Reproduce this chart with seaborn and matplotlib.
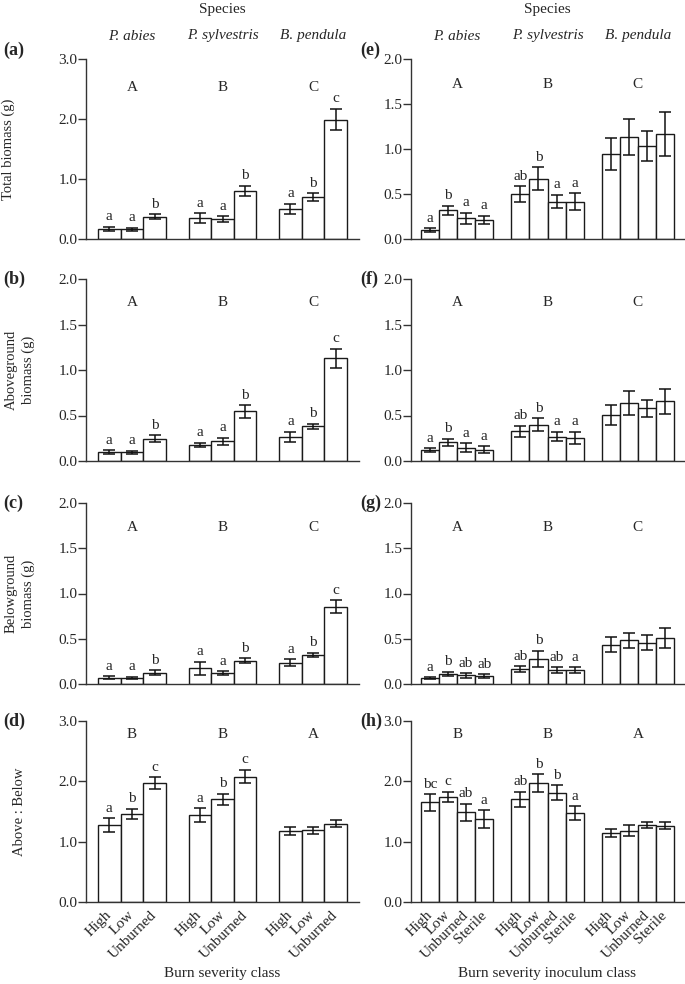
import matplotlib
matplotlib.use("Agg")
import matplotlib.pyplot as plt
import pandas as pd
import seaborn as sns

# Style: white bars, serif text
sns.set_style("ticks")
plt.rcParams['font.family'] = ['Liberation Serif', 'DejaVu Serif']

# Categories
species = ['P. abies', 'P. sylvestris', 'B. pendula']
burn_classes = ['High', 'Low', 'Unburned']
inoc_classes = ['High', 'Low', 'Unburned', 'Sterile']

# (a) total biomass by burn severity class (mean, SE), species in order
total_burn = [0.17, 0.16, 0.37, 0.35, 0.33, 0.80, 0.50, 0.70, 1.99]
total_burn_se = [0.036, 0.025, 0.044, 0.083, 0.05, 0.09, 0.086, 0.06, 0.18]
# (b) aboveground
above_burn = [0.096, 0.096, 0.246, 0.176, 0.217, 0.544, 0.268, 0.382, 1.13]
above_burn_se = [0.022, 0.018, 0.037, 0.026, 0.037, 0.066, 0.055, 0.03, 0.105]
# (c) belowground
below_burn = [0.069, 0.065, 0.127, 0.175, 0.12, 0.258, 0.236, 0.32, 0.855]
below_burn_se = [0.018, 0.015, 0.025, 0.073, 0.022, 0.029, 0.04, 0.024, 0.073]
# (d) above : below ratio
ratio_burn = [1.277, 1.458, 1.965, 1.442, 1.70, 2.08, 1.178, 1.19, 1.30]
ratio_burn_se = [0.11, 0.09, 0.10, 0.11, 0.096, 0.11, 0.06, 0.058, 0.058]

# (e) total biomass by burn severity inoculum class
total_inoc = [0.10, 0.32, 0.23, 0.21, 0.50, 0.67, 0.415, 0.415, 0.944, 1.133, 1.033, 1.167]
total_inoc_se = [0.022, 0.05, 0.063, 0.046, 0.087, 0.126, 0.076, 0.096, 0.178, 0.2, 0.167, 0.245]
# (f) aboveground
above_inoc = [0.118, 0.206, 0.147, 0.125, 0.327, 0.40, 0.268, 0.254, 0.504, 0.64, 0.577, 0.654]
above_inoc_se = [0.02, 0.04, 0.046, 0.035, 0.0625, 0.068, 0.053, 0.07, 0.107, 0.134, 0.097, 0.138]
# (g) belowground
below_inoc = [0.065, 0.113, 0.095, 0.087, 0.167, 0.276, 0.153, 0.156, 0.433, 0.484, 0.458, 0.51]
below_inoc_se = [0.011, 0.022, 0.024, 0.022, 0.029, 0.09, 0.031, 0.031, 0.082, 0.082, 0.078, 0.113]
# (h) above : below ratio
ratio_inoc = [1.65, 1.745, 1.486, 1.376, 1.70, 1.97, 1.81, 1.47, 1.145, 1.183, 1.277, 1.266]
ratio_inoc_se = [0.135, 0.085, 0.143, 0.146, 0.13, 0.146, 0.124, 0.113, 0.063, 0.09, 0.05, 0.06]

# Significance letters
letters_abc = ['a', 'a', 'b', 'a', 'a', 'b', 'a', 'b', 'c']
letters_d = ['a', 'b', 'c', 'a', 'b', 'c', '', '', '']
letters_ef = ['a', 'b', 'a', 'a', 'ab', 'b', 'a', 'a', '', '', '', '']
letters_g = ['a', 'b', 'ab', 'ab', 'ab', 'b', 'ab', 'a', '', '', '', '']
letters_h = ['bc', 'c', 'ab', 'a', 'ab', 'b', 'b', 'a', '', '', '', '']
species_letters = ['A', 'B', 'C']
species_letters_ratio = ['B', 'B', 'A']

panels = [
    # label, classes, means, errors, letters, group letters, ymax, ytick step, group-letter y, column, row, ylabel
    ('(a)', burn_classes, total_burn, total_burn_se, letters_abc, species_letters, 3.0, 1.0, 2.53, 0, 0, 'Total biomass (g)'),
    ('(b)', burn_classes, above_burn, above_burn_se, letters_abc, species_letters, 2.0, 0.5, 1.74, 0, 1, 'Aboveground\nbiomass (g)'),
    ('(c)', burn_classes, below_burn, below_burn_se, letters_abc, species_letters, 2.0, 0.5, 1.73, 0, 2, 'Belowground\nbiomass (g)'),
    ('(d)', burn_classes, ratio_burn, ratio_burn_se, letters_d, species_letters_ratio, 3.0, 1.0, 2.77, 0, 3, 'Above : Below'),
    ('(e)', inoc_classes, total_inoc, total_inoc_se, letters_ef, species_letters, 2.0, 0.5, 1.72, 1, 0, None),
    ('(f)', inoc_classes, above_inoc, above_inoc_se, letters_ef, species_letters, 2.0, 0.5, 1.74, 1, 1, None),
    ('(g)', inoc_classes, below_inoc, below_inoc_se, letters_g, species_letters, 2.0, 0.5, 1.73, 1, 2, None),
    ('(h)', inoc_classes, ratio_inoc, ratio_inoc_se, letters_h, species_letters_ratio, 3.0, 1.0, 2.77, 1, 3, None),
]

W, H = 685, 984
fig = plt.figure(figsize=(W / 100, H / 100), dpi=100)

col_left = [86, 411]
col_width = 273
row_px = [(59, 239), (279, 461), (503, 684), (721, 902)]
ylabel_x = [8, 20, 20, 20]
plabel_dy = [-9, 0, 0, 0]

for (plabel, classes, means, errs, letters, glet, ymax, ystep, gy,
     col, row, ylabel) in panels:
    top, bot = row_px[row]
    ax = fig.add_axes([col_left[col] / W, 1 - bot / H, col_width / W, (bot - top) / H])
    n = len(classes)
    pos = [g * (n + 1) + i for g in range(len(species)) for i in range(n)]
    df = pd.DataFrame({'pos': pos, 'mean': means})
    sns.barplot(data=df, x='pos', y='mean', native_scale=True, width=1.0,
                color='white', saturation=1, edgecolor='#1a1a1a', linewidth=1.0,
                errorbar=None, ax=ax)
    ax.errorbar(pos, means, yerr=errs, fmt='none', ecolor='#111111',
                elinewidth=1.1, capsize=4, capthick=1.1, zorder=3)

    for x, m, e, lt in zip(pos, means, errs, letters):
        if lt:
            ax.annotate(lt, (x, m + e), xytext=(0, 2.5), textcoords='offset points',
                        ha='center', va='bottom', fontsize=11)
    for g, gl in enumerate(glet):
        ax.text(g * (n + 1) + (n - 1) / 2, gy, gl, ha='center', va='center', fontsize=11)

    margin = 0.53 if n == 3 else 0.55
    ax.set_xlim(-0.5 - margin, len(pos) + len(species) - 1.5 + margin)
    ax.set_ylim(0, ymax)
    ticks = [i * ystep for i in range(int(round(ymax / ystep)) + 1)]
    ax.set_yticks(ticks)
    ax.set_yticklabels([f'{t:.1f}' for t in ticks], fontsize=11)
    ax.tick_params(axis='y', length=5.5, width=1.0, pad=0.5, color='#333333')
    ax.set_xlabel('')
    ax.set_ylabel('')
    sns.despine(ax=ax)
    for s in ['left', 'bottom']:
        ax.spines[s].set_linewidth(1.0)
        ax.spines[s].set_color('#333333')

    if row == 3:
        ax.set_xticks(pos)
        ax.set_xticklabels(classes * len(species), rotation=45, ha='right',
                           va='center', rotation_mode='anchor', fontsize=11)
        ax.tick_params(axis='x', length=0, pad=8)
    else:
        ax.set_xticks([])

    # panel letter
    fig.text((3 if col == 0 else 360) / W, 1 - (top + plabel_dy[row]) / H, plabel,
             fontsize=13, fontweight='bold', ha='left', va='center')
    if ylabel:
        fig.text(ylabel_x[row] / W, 1 - (top + bot) / 2 / H, ylabel, rotation=90,
                 ha='center', va='center', fontsize=10.5, linespacing=1.35,
                 multialignment='center')

    if row == 0:
        cx = col_left[col] + col_width / 2
        fig.text(cx / W, 1 - 10 / H, 'Species', ha='center', va='center', fontsize=11)
        xscale = col_width / (ax.get_xlim()[1] - ax.get_xlim()[0])
        for g, sp in enumerate(species):
            gx = col_left[col] + (g * (n + 1) + (n - 1) / 2 - ax.get_xlim()[0]) * xscale
            fig.text(gx / W, 1 - 36 / H, sp, ha='center', va='center', fontsize=11,
                     fontstyle='italic')
    if row == 3:
        cx = col_left[col] + col_width / 2
        xlab = 'Burn severity class' if col == 0 else 'Burn severity inoculum class'
        fig.text(cx / W, 1 - 974 / H, xlab, ha='center', va='center', fontsize=11)

fig.savefig('out.png', dpi=100)
